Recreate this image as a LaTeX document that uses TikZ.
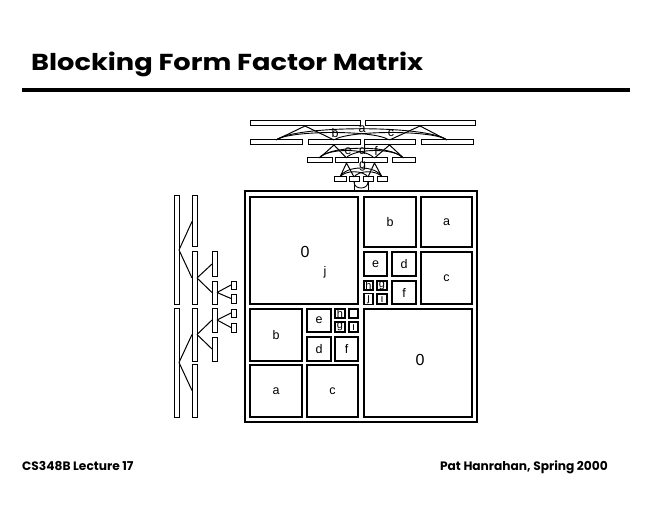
\documentclass[tikz,border=0pt]{standalone}
\usepackage{fontspec}
\setmainfont{Liberation Sans}
\newfontfamily\titlefont{Poppins}
\usepackage{graphicx}
\tikzset{
  barbox/.style={draw, line width=1pt, fill=white, inner sep=0pt, outer sep=0pt},
  blockbox/.style={draw, line width=1.5pt, inner sep=0pt, outer sep=0pt, font=\fontsize{12.5}{12.5}\selectfont},
  zerobox/.style={blockbox, font=\fontsize{16}{16}\selectfont},
  tinybox/.style={draw, line width=1.2pt, inner sep=0pt, outer sep=0pt, font=\fontsize{11}{11}\selectfont},
  framebox/.style={draw, line width=1.3pt, inner sep=0pt, outer sep=0pt},
  lbl/.style={font=\fontsize{12.5}{12.5}\selectfont, inner sep=0pt},
  treeline/.style={line width=1pt},
  linkline/.style={line width=0.9pt},
  footfont/.style={anchor=base west, inner sep=0pt, font=\titlefont\bfseries\fontsize{12.2}{12.2}\selectfont},
}
% style, name, x1, y1, x2, y2, text
\newcommand\boxnode[7]{\node[#1, minimum width={(#5-#3)*1pt}, minimum height={(#6-#4)*1pt}] (#2) at ({(#3+#5)/2},{(#4+#6)/2}) {#7};}
\begin{document}
\begin{tikzpicture}[x=1pt,y=-1pt]
\useasboundingbox[fill=white] (0,0) rectangle (660,510);

% title, rule, footer
\node[anchor=base west, inner sep=0pt] (title) at (31,71) {\resizebox{392pt}{18.5pt}{\titlefont\bfseries Blocking Form Factor Matrix}};
\coordinate (ruleL) at (22,90);
\coordinate (ruleR) at (630,90);
\draw[line width=4pt] (ruleL) -- (ruleR);
\node[footfont] (footL) at (22,470.3) {CS348B Lecture 17};
\node[footfont, anchor=base east] (footR) at (608,470.3) {Pat Hanrahan, Spring 2000};

% ---------- matrix ----------
\boxnode{framebox}{M}{245}{191}{477}{422}{}
\boxnode{zerobox}{TL}{250}{197}{358}{304}{}
\node[anchor=center, font=\fontsize{16}{16}\selectfont, inner sep=0pt] (TLz) at (305,252) {0};
\node[lbl] (TLj) at (325,272) {j};
% top-right quadrant
\boxnode{blockbox}{Tb}{364}{197}{416}{247}{b}
\boxnode{blockbox}{Ta}{421}{197}{472}{247}{a}
\boxnode{blockbox}{Te}{364}{252}{387}{276}{e}
\boxnode{blockbox}{Td}{392}{252}{416}{276}{d}
\boxnode{blockbox}{Tc}{421}{252}{472}{304}{c}
\boxnode{tinybox}{Th}{364}{281}{373}{290}{h}
\boxnode{tinybox}{Tg}{377}{281}{387}{290}{g}
\boxnode{tinybox}{Tj}{364}{294}{373}{304}{j}
\boxnode{tinybox}{Ti}{377}{294}{387}{304}{i}
\boxnode{blockbox}{Tf}{392}{281}{416}{304}{f}
% bottom-left quadrant
\boxnode{blockbox}{Bb}{250}{309}{302}{361}{b}
\boxnode{blockbox}{Be}{307}{309}{331}{332}{e}
\boxnode{tinybox}{Bh}{335}{309}{345}{318}{h}
\boxnode{tinybox}{Bx}{349}{309}{358}{318}{}
\boxnode{tinybox}{Bg}{335}{322}{345}{332}{g}
\boxnode{tinybox}{Bi}{349}{322}{358}{332}{i}
\boxnode{blockbox}{Bd}{307}{337}{331}{361}{d}
\boxnode{blockbox}{Bf}{335}{337}{358}{361}{f}
\boxnode{blockbox}{Ba}{250}{365}{302}{417}{a}
\boxnode{blockbox}{Bc}{307}{365}{358}{417}{c}
\boxnode{zerobox}{BR}{364}{309}{472}{417}{}
\node[font=\fontsize{16}{16}\selectfont, inner sep=0pt] (BRz) at (420,360) {0};

% ---------- left tree ----------
\boxnode{barbox}{R0}{174}{196}{179}{304}{}
\boxnode{barbox}{R1}{174}{308}{179}{417}{}
\boxnode{barbox}{R00}{192}{196}{197}{247}{}
\boxnode{barbox}{R01}{192}{252}{197}{304}{}
\boxnode{barbox}{R10}{192}{308}{197}{361}{}
\boxnode{barbox}{R11}{192}{364}{197}{417}{}
\boxnode{barbox}{R010}{212}{252}{217}{276}{}
\boxnode{barbox}{R011}{212}{281}{217}{304}{}
\boxnode{barbox}{R100}{212}{308}{217}{332}{}
\boxnode{barbox}{R101}{212}{337}{217}{361}{}
\boxnode{barbox}{R0110}{231}{281}{236}{289}{}
\boxnode{barbox}{R0111}{231}{294}{236}{303}{}
\boxnode{barbox}{R1000}{231}{309}{236}{317}{}
\boxnode{barbox}{R1001}{231}{323}{236}{332}{}
\draw[treeline] (R0.east) -- (R00.west) (R0.east) -- (R01.west);
\draw[treeline] (R1.east) -- (R10.west) (R1.east) -- (R11.west);
\draw[treeline] (R01.east) -- (R010.west) (R01.east) -- (R011.west);
\draw[treeline] (R10.east) -- (R100.west) (R10.east) -- (R101.west);
\draw[treeline] (R011.east) -- (R0110.west) (R011.east) -- (R0111.west);
\draw[treeline] (R100.east) -- (R1000.west) (R100.east) -- (R1001.west);

% ---------- top tree ----------
% links (drawn first, bars on top)
\draw[linkline] (276,140) .. controls (296,125) and (427,125) .. (447,140);
\draw[linkline] (276,140) .. controls (290,130) and (376,130) .. (389,140);
\draw[linkline] (334,140) .. controls (348,130) and (434,130) .. (447,140);
\draw[linkline] (319,158) .. controls (328,148) and (366,148) .. (374,158);
\draw[linkline] (319,158) .. controls (330,145) and (393,145) .. (403,158);
\draw[linkline] (346,158) .. controls (355,148) and (395,148) .. (403,158);
\draw[linkline] (340,177) .. controls (346,165) and (376,165) .. (382,177);
\draw[linkline] (340,177) .. controls (345,170) and (363,170) .. (368,177);
\draw[linkline] (354,177) .. controls (359,170) and (377,170) .. (382,177);
\draw[linkline] (354,182) .. controls (354,190) and (368,190) .. (368,182);
\boxnode{barbox}{C0}{250}{121}{360}{126}{}
\boxnode{barbox}{C1}{365}{121}{475}{126}{}
\boxnode{barbox}{C00}{250}{140}{302}{145}{}
\boxnode{barbox}{C01}{308}{140}{360}{145}{}
\boxnode{barbox}{C10}{364}{140}{415}{145}{}
\boxnode{barbox}{C11}{421}{140}{473}{145}{}
\boxnode{barbox}{C010}{307}{158}{332}{163}{}
\boxnode{barbox}{C011}{335}{158}{358}{163}{}
\boxnode{barbox}{C100}{362}{158}{387}{163}{}
\boxnode{barbox}{C101}{392}{158}{415}{163}{}
\boxnode{barbox}{C0110}{334}{177}{346}{182}{}
\boxnode{barbox}{C0111}{349}{177}{359}{182}{}
\boxnode{barbox}{C1000}{363}{177}{373}{182}{}
\boxnode{barbox}{C1001}{377}{177}{387}{182}{}
\draw[treeline] (C0.south) -- (C00.north) (C0.south) -- (C01.north);
\draw[treeline] (C1.south) -- (C10.north) (C1.south) -- (C11.north);
\draw[treeline] (C01.south) -- (C010.north) (C01.south) -- (C011.north);
\draw[treeline] (C10.south) -- (C100.north) (C10.south) -- (C101.north);
\draw[treeline] (C011.south) -- (C0110.north) (C011.south) -- (C0111.north);
\draw[treeline] (C100.south) -- (C1000.north) (C100.south) -- (C1001.north);
\draw[treeline] (C0111.south) -- (M.north -| C0111.south);
\draw[treeline] (C1000.south) -- (M.north -| C1000.south);
% link labels
\node[lbl] (la) at (362,129) {a};
\node[lbl] (lb) at (335,133) {b};
\node[lbl] (lc) at (391,133) {c};
\node[lbl] (le) at (348,151) {e};
\node[lbl] (ld) at (362.5,150) {d};
\node[lbl] (lf) at (376,151) {f};
\node[lbl] (lg) at (362.5,166) {g};
\end{tikzpicture}
\end{document}
